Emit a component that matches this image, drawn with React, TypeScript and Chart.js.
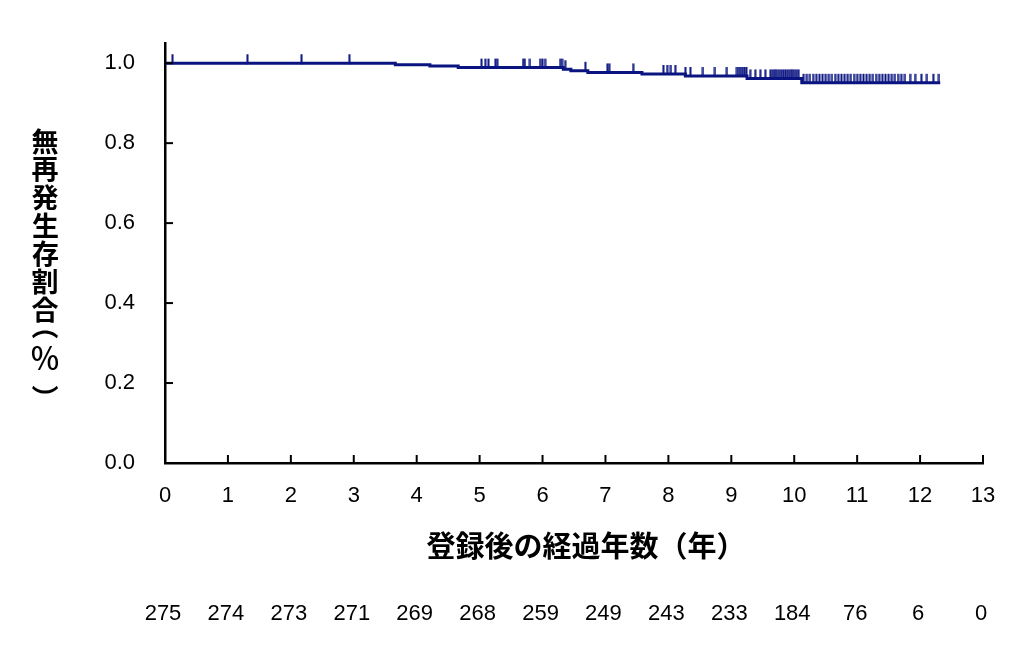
import React, { useEffect, useRef } from 'react';
import { Chart, registerables } from 'chart.js';
Chart.register(...registerables);

// survival curve steps (years, proportion)
const eventYears = [0, 3.66, 4.21, 4.66, 6.33, 6.45, 6.72, 7.58, 8.27, 9.25, 10.12, 12.32];
const survival = [1.0, 0.996, 0.993, 0.989, 0.985, 0.981, 0.977, 0.973, 0.968, 0.962, 0.951, 0.951];

// censored cases (years)
const censorYears = [
  0.12, 1.31, 2.17, 2.93,
  5.03, 5.09, 5.14, 5.25, 5.28, 5.69, 5.72, 5.8, 5.96, 6.0, 6.04,
  6.28, 6.31, 6.36, 6.68, 7.03, 7.06, 7.44,
  7.92, 7.98, 8.04, 8.11, 8.27, 8.35, 8.55, 8.74, 8.93,
  9.09, 9.12, 9.15, 9.18, 9.21, 9.24, 9.3, 9.38, 9.46, 9.54,
  9.62, 9.65, 9.68, 9.71, 9.74, 9.77, 9.8, 9.83, 9.86, 9.89, 9.92, 9.95, 9.98, 10.01, 10.04, 10.07,
  10.15, 10.2, 10.25, 10.3, 10.35, 10.4, 10.45, 10.5, 10.55, 10.6, 10.65, 10.7, 10.75, 10.8, 10.85,
  10.9, 10.95, 11.0, 11.05, 11.1, 11.15, 11.2, 11.25, 11.3, 11.35, 11.4, 11.45, 11.5, 11.55, 11.6,
  11.65, 11.7, 11.76, 11.84, 11.92, 12.02, 12.11, 12.21, 12.3,
];

const atRisk = [275, 274, 273, 271, 269, 268, 259, 249, 243, 233, 184, 76, 6, 0];
const yTicks = [0, 0.2, 0.4, 0.6, 0.8, 1.0];
const yTitle = ['無', '再', '発', '生', '存', '割', '合', '（', '％', '）'];
const xTitle = '登録後の経過年数（年）';

const NAVY = '#0a1480';
const LATIN = '"Liberation Sans", Arial, sans-serif';
const CJK = '"Noto Sans CJK JP", sans-serif';

const levelAt = (t: number) => {
  let s = survival[0];
  for (let i = 0; i < eventYears.length; i++) {
    if (eventYears[i] <= t) s = survival[i];
  }
  return s;
};

const inkCentered = (ctx: CanvasRenderingContext2D, ch: string, cx: number, cy: number, rot = 0) => {
  ctx.save();
  ctx.translate(cx, cy);
  if (rot) ctx.rotate(rot);
  ctx.textAlign = 'left';
  ctx.textBaseline = 'alphabetic';
  const m = ctx.measureText(ch);
  const ix = (m.actualBoundingBoxRight - m.actualBoundingBoxLeft) / 2;
  const iy = (m.actualBoundingBoxDescent - m.actualBoundingBoxAscent) / 2;
  ctx.fillText(ch, -ix, -iy);
  ctx.restore();
};

const decor = {
  id: 'decor',
  afterDraw(chart: any) {
    const { ctx, chartArea, scales } = chart;
    const x = scales.x;
    const y = scales.y;
    ctx.save();
    // inward tick marks
    ctx.strokeStyle = '#000';
    ctx.lineWidth = 2;
    yTicks.forEach((v) => {
      const py = y.getPixelForValue(v);
      ctx.beginPath();
      ctx.moveTo(chartArea.left, py);
      ctx.lineTo(chartArea.left + 8, py);
      ctx.stroke();
    });
    atRisk.forEach((_, i) => {
      const px = x.getPixelForValue(i);
      ctx.beginPath();
      ctx.moveTo(px, chartArea.bottom);
      ctx.lineTo(px, chartArea.bottom - 8);
      ctx.stroke();
    });

    ctx.fillStyle = '#000';
    // vertical y title
    const centers = [141, 169, 197, 225, 253, 281, 309, 334, 358, 390];
    yTitle.forEach((ch, i) => {
      const paren = ch === '（' || ch === '）';
      ctx.font = ch === '％' ? `500 30px ${CJK}` : `bold 27px ${CJK}`;
      inkCentered(ctx, ch, 45, centers[i], paren ? Math.PI / 2 : 0);
    });

    // x title
    ctx.font = `bold 29px ${CJK}`;
    ctx.textAlign = 'center';
    ctx.textBaseline = 'middle';
    ctx.fillText(xTitle, 586, 546);

    // number at risk
    ctx.font = `22px ${LATIN}`;
    atRisk.forEach((n, i) => {
      ctx.fillText(String(n), x.getPixelForValue(i) - 2, 614);
    });
    ctx.restore();
  },
};

const App: React.FC = () => {
  const canvasRef = useRef<HTMLCanvasElement | null>(null);
  const chartRef = useRef<Chart | null>(null);

  useEffect(() => {
    const ctx = canvasRef.current?.getContext('2d');
    if (!ctx) return;

    // censor mark: short vertical stroke above the curve
    const mark = document.createElement('canvas');
    mark.width = 3;
    mark.height = 20;
    const mctx = mark.getContext('2d');
    if (mctx) {
      mctx.fillStyle = NAVY;
      mctx.fillRect(0.5, 1, 2, 10);
    }

    chartRef.current = new Chart(ctx, {
      type: 'line',
      data: {
        datasets: [
          {
            label: 'survival',
            data: eventYears.map((t, i) => ({ x: t, y: survival[i] })),
            stepped: true,
            borderColor: NAVY,
            borderWidth: 3,
            pointRadius: 0,
            fill: false,
          },
          {
            type: 'scatter',
            label: 'censored',
            data: censorYears.map((t) => ({ x: t, y: levelAt(t) })),
            pointStyle: mark as any,
            pointRadius: 4,
            showLine: false,
          } as any,
        ],
      },
      options: {
        animation: false,
        responsive: true,
        maintainAspectRatio: false,
        layout: { padding: { top: 43, right: 41, left: 0, bottom: 0 } },
        plugins: {
          legend: { display: false },
          tooltip: { enabled: false },
        },
        scales: {
          x: {
            type: 'linear',
            min: 0,
            max: 13,
            grid: { display: false, drawTicks: false },
            border: { display: true, color: '#000', width: 2.5 },
            ticks: {
              stepSize: 1,
              autoSkip: false,
              maxRotation: 0,
              padding: 20,
              color: '#000',
              font: { family: LATIN, size: 22 },
            },
            afterFit: (scale: any) => {
              scale.height = 204;
            },
          },
          y: {
            min: 0,
            max: 1.05,
            grid: { display: false, drawTicks: false },
            border: { display: true, color: '#000', width: 2.5 },
            afterBuildTicks: (scale: any) => {
              scale.ticks = yTicks.map((v) => ({ value: v }));
            },
            ticks: {
              padding: 30,
              color: '#000',
              font: { family: LATIN, size: 22 },
              callback: (v: any) => Number(v).toFixed(1),
            },
            afterFit: (scale: any) => {
              scale.width = 165;
            },
          },
        },
      },
      plugins: [decor],
    });

    return () => {
      chartRef.current?.destroy();
      chartRef.current = null;
    };
  }, []);

  return (
    <div style={{ position: 'absolute', left: 0, top: 0, width: 1024, height: 667, background: '#fff' }}>
      <canvas ref={canvasRef} />
    </div>
  );
};

export default App;
